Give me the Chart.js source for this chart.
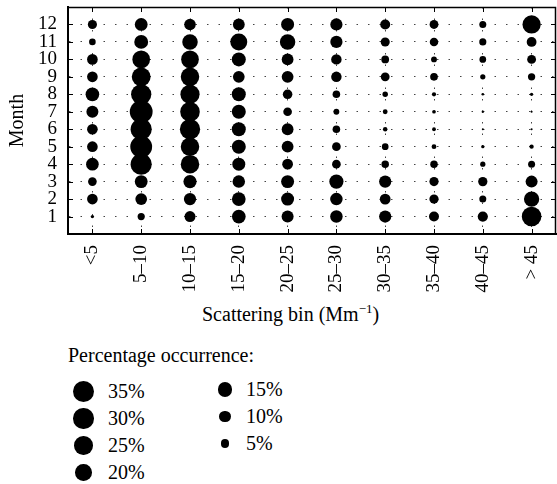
<!DOCTYPE html>
<html>
<head>
<meta charset="utf-8">
<script src="https://cdn.jsdelivr.net/npm/chart.js@4/dist/chart.umd.min.js"></script>
<style>
html, body { margin: 0; padding: 0; background: #fff; }
body { width: 557px; height: 484px; position: relative; overflow: hidden; font-family: "Liberation Serif", serif; color: #000; }
#wrap { position: absolute; left: 0; top: 0; width: 557px; height: 300px; }
.t { position: absolute; white-space: nowrap; font-size: 20px; line-height: 20px; }
.sup { font-size: 13px; position: relative; top: -8px; }
.dot { position: absolute; background: #000; border-radius: 50%; }
</style>
</head>
<body>
<div id="wrap"><canvas id="c" width="557" height="300"></canvas></div>
<div class="t" style="left:202px; top:304px;">Scattering bin (Mm<span class="sup">−1</span>)</div>
<div class="t" style="left:68px; top:345px;">Percentage occurrence:</div>
<div id="legend"></div>
<script>
// ---- data ----
const months = [1, 2, 3, 4, 5, 6, 7, 8, 9, 10, 11, 12];
const monthTicks = ['1', '2', '3', '4', '5', '6', '7', '8', '9', '10', '11', '12'];
const bins = ['<5', '5–10', '10–15', '15–20', '20–25', '25–30', '30–35', '35–40', '40–45', '> 45'];

// percentage occurrence per bin, months 1..12
const pctLt5   = [0.8, 8.3, 5.5, 11.7, 8.3, 8.3, 10.5, 13.6, 8.3, 8.3, 3.2, 6.1];
const pct5_10  = [3.8, 10.0, 12.0, 32.8, 34.8, 32.8, 38.0, 30.0, 26.0, 22.9, 14.0, 12.0];
const pct10_15 = [8.8, 10.9, 12.7, 25.0, 25.0, 30.0, 28.0, 27.0, 25.0, 23.0, 17.5, 9.7];
const pct15_20 = [13.7, 13.7, 11.4, 12.3, 14.3, 14.3, 14.3, 14.3, 10.0, 14.3, 21.0, 10.2];
const pct20_25 = [10.5, 12.3, 12.3, 8.4, 10.2, 10.2, 5.5, 6.7, 10.2, 10.2, 17.5, 12.3];
const pct25_30 = [11.4, 11.4, 14.7, 5.5, 5.5, 4.2, 2.5, 4.2, 8.0, 8.0, 10.9, 10.9];
const pct30_35 = [10.9, 8.5, 10.9, 4.1, 3.3, 1.5, 1.7, 2.2, 5.7, 4.4, 6.0, 7.3];
const pct35_40 = [7.3, 6.2, 6.2, 4.1, 1.7, 1.05, 1.0, 1.3, 4.3, 2.5, 5.3, 5.7];
const pct40_45 = [7.6, 3.6, 6.3, 2.0, 0.8, 0.3, 0.4, 0.5, 2.0, 3.3, 3.7, 3.6];
const pctGt45  = [28.0, 17.1, 10.5, 3.6, 1.35, 0.3, 0.3, 0.8, 3.9, 5.7, 7.0, 24.2];

const legendCol1 = [35, 30, 25, 20];
const legendCol2 = [15, 10, 5];

// ---- rendering ----
const FONT = 'Liberation Serif';
const bubbleRadius = p => 1.85 * Math.sqrt(p);

const series = [pctLt5, pct5_10, pct10_15, pct15_20, pct20_25, pct25_30, pct30_35, pct35_40, pct40_45, pctGt45];
const points = [];
series.forEach((arr, bi) => arr.forEach((p, mi) => points.push({ x: bi, y: months[mi], r: bubbleRadius(p) })));

const framePlugin = {
  id: 'frame',
  afterDatasetsDraw(chart) {
    const { ctx, chartArea: a, scales: { x, y } } = chart;
    ctx.save();
    ctx.strokeStyle = '#000';
    ctx.lineWidth = 1.5;
    ctx.beginPath();
    ctx.moveTo(a.left, a.top + 0.5);
    ctx.lineTo(a.right - 0.5, a.top + 0.5);
    ctx.lineTo(a.right - 0.5, a.bottom);
    ctx.stroke();
    ctx.lineWidth = 1;
    ctx.beginPath();
    x.ticks.forEach(t => {
      const px = Math.round(x.getPixelForValue(t.value)) + 0.5;
      ctx.moveTo(px, a.bottom); ctx.lineTo(px, a.bottom - 5);
      ctx.moveTo(px, a.top); ctx.lineTo(px, a.top + 5);
    });
    y.ticks.forEach(t => {
      const py = Math.round(y.getPixelForValue(t.value)) + 0.5;
      ctx.moveTo(a.left, py); ctx.lineTo(a.left + 5, py);
      ctx.moveTo(a.right, py); ctx.lineTo(a.right - 5, py);
    });
    ctx.stroke();
    ctx.restore();
  }
};

const gridOpts = { drawTicks: false, color: '#444', lineWidth: 1 };
const borderOpts = { display: true, color: '#000', width: 2, dash: [1.5, 10] };

new Chart(document.getElementById('c'), {
  type: 'bubble',
  data: {
    datasets: [{
      data: points,
      backgroundColor: '#000',
      borderWidth: 0,
      hoverRadius: 0,
      hoverBorderWidth: 0
    }]
  },
  options: {
    responsive: false,
    animation: false,
    devicePixelRatio: 1,
    layout: { autoPadding: false, padding: { top: 7, right: 1, left: 0, bottom: 0 } },
    plugins: { legend: { display: false }, tooltip: { enabled: false } },
    scales: {
      x: {
        type: 'linear', min: -0.5, max: 9.5,
        afterBuildTicks: s => { s.ticks = bins.map((b, i) => ({ value: i })); },
        ticks: {
          autoSkip: false, minRotation: 90, maxRotation: 90, padding: 11,
          callback: (v, i) => bins[i],
          font: { family: FONT, size: 19 }, color: '#000'
        },
        grid: gridOpts,
        border: borderOpts,
        afterFit: s => { s.height = 66; s.paddingLeft = 0; s.paddingRight = 0; }
      },
      y: {
        type: 'linear', min: 0, max: 13,
        afterBuildTicks: s => { s.ticks = months.map(m => ({ value: m })); },
        ticks: {
          autoSkip: false, padding: 11,
          callback: (v, i) => monthTicks[i],
          font: { family: FONT, size: 19 }, color: '#000'
        },
        grid: gridOpts,
        border: borderOpts,
        title: { display: true, text: 'Month', font: { family: FONT, size: 20 }, color: '#000', padding: { top: 6, bottom: 0 } },
        afterFit: s => { s.width = 68; s.paddingTop = 0; s.paddingBottom = 0; }
      }
    }
  },
  plugins: [framePlugin]
});

// legend (circle sizes from the same radius rule)
const legend = document.getElementById('legend');
function addLegendColumn(values, cx, labelX, firstY, step) {
  values.forEach((p, i) => {
    const cy = firstY + i * step;
    const r = bubbleRadius(p);
    const d = document.createElement('div');
    d.className = 'dot';
    d.style.left = (cx - r) + 'px'; d.style.top = (cy - r) + 'px';
    d.style.width = (2 * r) + 'px'; d.style.height = (2 * r) + 'px';
    legend.appendChild(d);
    const t = document.createElement('div');
    t.className = 't';
    t.style.left = labelX + 'px';
    t.style.top = (cy - 10.5) + 'px';
    t.textContent = p + '%';
    legend.appendChild(t);
  });
}
addLegendColumn(legendCol1, 83.5, 108, 391.5, 27);
addLegendColumn(legendCol2, 225, 246, 389.5, 27);
</script>
</body>
</html>
